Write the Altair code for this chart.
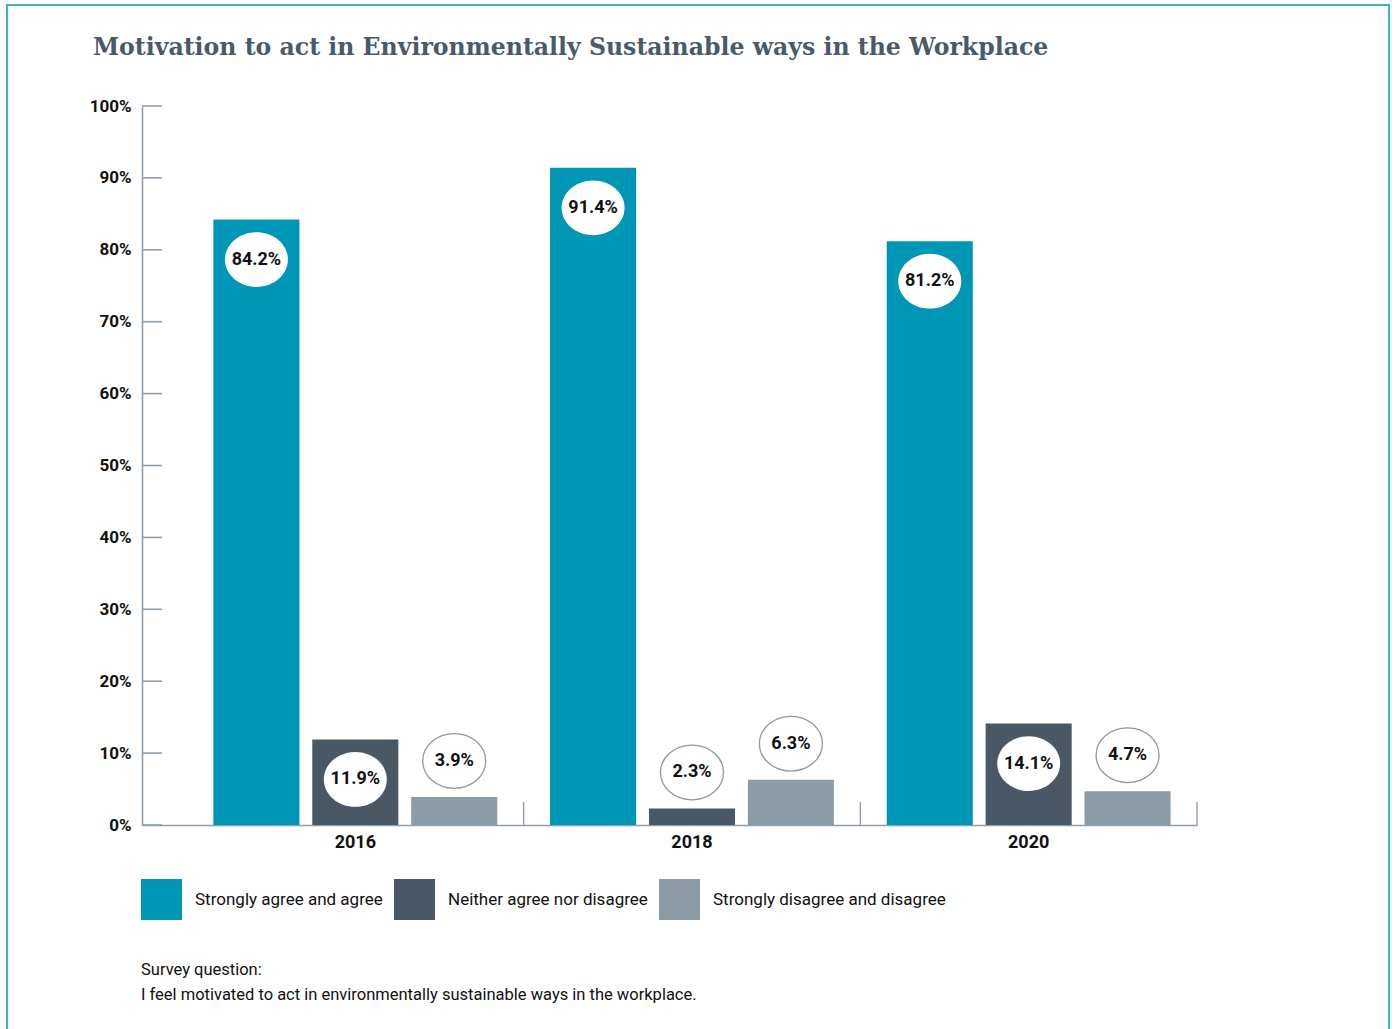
import altair as alt
import pandas as pd

# ---------------- data ----------------
years = ["2016", "2018", "2020"]
categories = [
    "Strongly agree and agree",
    "Neither agree nor disagree",
    "Strongly disagree and disagree",
]
agree = [84.2, 91.4, 81.2]
neither = [11.9, 2.3, 14.1]
disagree = [3.9, 6.3, 4.7]
colors = ["#0096b6", "#4a5866", "#8c9ba6"]
y_ticks = [0, 10, 20, 30, 40, 50, 60, 70, 80, 90, 100]
title_text = "Motivation to act in Environmentally Sustainable ways in the Workplace"
note_lines = [
    "Survey question:",
    "\u00a0I feel motivated to act in environmentally sustainable ways in the workplace.",
]

rows = []
for i, yr in enumerate(years):
    for cat, vals in zip(categories, [agree, neither, disagree]):
        rows.append({"year": yr, "category": cat, "value": vals[i],
                     "label": f"{vals[i]:.1f}%"})
df = pd.DataFrame(rows)
ticks_df = pd.DataFrame({"tick": y_ticks})
years_df = pd.DataFrame({"year": years})
one = pd.DataFrame({"k": [0]})

# ---------------- style ----------------
COND = "Roboto, Lato, sans-serif"
SERIF = "DejaVu Serif, serif"
AXIS_COLOR = "#8f9eab"
W, H = 1055, 719
ELLIPSE = "M -1.15 0 A 1.15 1 0 1 1 1.15 0 A 1.15 1 0 1 1 -1.15 0 Z"

x_enc = alt.X(
    "year:N", sort=years, title=None,
    scale=alt.Scale(paddingInner=0, paddingOuter=0.0668, align=1),
    axis=alt.Axis(labelAngle=0, ticks=False, domainColor=AXIS_COLOR, domainWidth=1.6,
                  labelFont=COND, labelFontSize=18, labelFontWeight="bold",
                  labelColor="#111111", labelPadding=8),
)
xoff_enc = alt.XOffset("category:N", sort=categories,
                       scale=alt.Scale(paddingInner=0.13, paddingOuter=0.267))
y_scale = alt.Scale(domain=[0, 100], nice=False)
y_enc = alt.Y(
    "value:Q", scale=y_scale, title=None,
    axis=alt.Axis(values=y_ticks, labelExpr="datum.value + '%'", ticks=False, grid=False,
                  domainColor=AXIS_COLOR, domainWidth=1.6, labelFont=COND,
                  labelFontSize=17, labelFontWeight="bold", labelColor="#111111",
                  labelPadding=11),
)

base = alt.Chart(df).encode(x=x_enc, xOffset=xoff_enc, y=y_enc)

border = alt.Chart(one).mark_rect(fillOpacity=0, stroke="#3cb3c8", strokeWidth=2).encode(
    x=alt.value(-135), x2=alt.value(1247), y=alt.value(-101), y2=alt.value(1000)
)

title = alt.Chart(one).mark_text(
    text=title_text, align="left", baseline="alphabetic", font=SERIF, fontSize=23.6,
    fontWeight="bold", color="#4b5a68"
).encode(x=alt.value(-49), y=alt.value(-51))

bars = base.mark_bar().encode(
    color=alt.Color(
        "category:N", sort=categories, title=None,
        scale=alt.Scale(domain=categories, range=colors),
        legend=alt.Legend(orient="none", legendX=-1, legendY=773, direction="horizontal",
                          symbolType="square", symbolSize=1681, symbolStrokeWidth=0,
                          symbolOpacity=1, labelFont=COND, labelFontSize=17,
                          labelColor="#111111", labelOffset=13, columnPadding=11,
                          padding=0, labelLimit=400),
    )
)

y_tick_rules = alt.Chart(ticks_df).mark_rule(color=AXIS_COLOR, strokeWidth=1.6).encode(
    y=alt.Y("tick:Q", scale=y_scale), x=alt.value(0), x2=alt.value(20)
)

separators = alt.Chart(years_df).mark_rule(color=AXIS_COLOR, strokeWidth=1.4).encode(
    x=alt.X("year:N", sort=years, bandPosition=1), y=alt.value(H - 23), y2=alt.value(H)
)

inside = base.transform_filter("datum.value >= 10")
outside = base.transform_filter("datum.value < 10")

in_ell = inside.mark_point(shape=ELLIPSE, size=3000, filled=True, fill="white",
                           fillOpacity=1, opacity=1, strokeWidth=0, yOffset=40)
in_txt = inside.mark_text(font=COND, fontSize=18, fontWeight="bold", color="#111111",
                          yOffset=40).encode(text="label:N")
out_ell = outside.mark_point(shape=ELLIPSE, size=3000, filled=True, fill="white",
                             fillOpacity=1, opacity=1, stroke="#8a9aa6", strokeWidth=1.3,
                             yOffset=-36)
out_txt = outside.mark_text(font=COND, fontSize=18, fontWeight="bold", color="#111111",
                            yOffset=-36).encode(text="label:N")

note = alt.Chart(one).mark_text(
    text=note_lines, align="left", baseline="alphabetic", font=COND, fontSize=16.5,
    color="#111111", lineHeight=25
).encode(x=alt.value(-1), y=alt.value(869))

chart = alt.layer(
    border, title, bars, y_tick_rules, separators, in_ell, in_txt, out_ell, out_txt, note
).properties(
    width=W, height=H,
    autosize=alt.AutoSizeParams(type="none"),
    padding={"left": 142, "top": 106, "right": 195, "bottom": 204},
    background="white",
).configure_view(strokeWidth=0)

chart.save("out.html", embed_options={"renderer": "svg", "actions": False})
